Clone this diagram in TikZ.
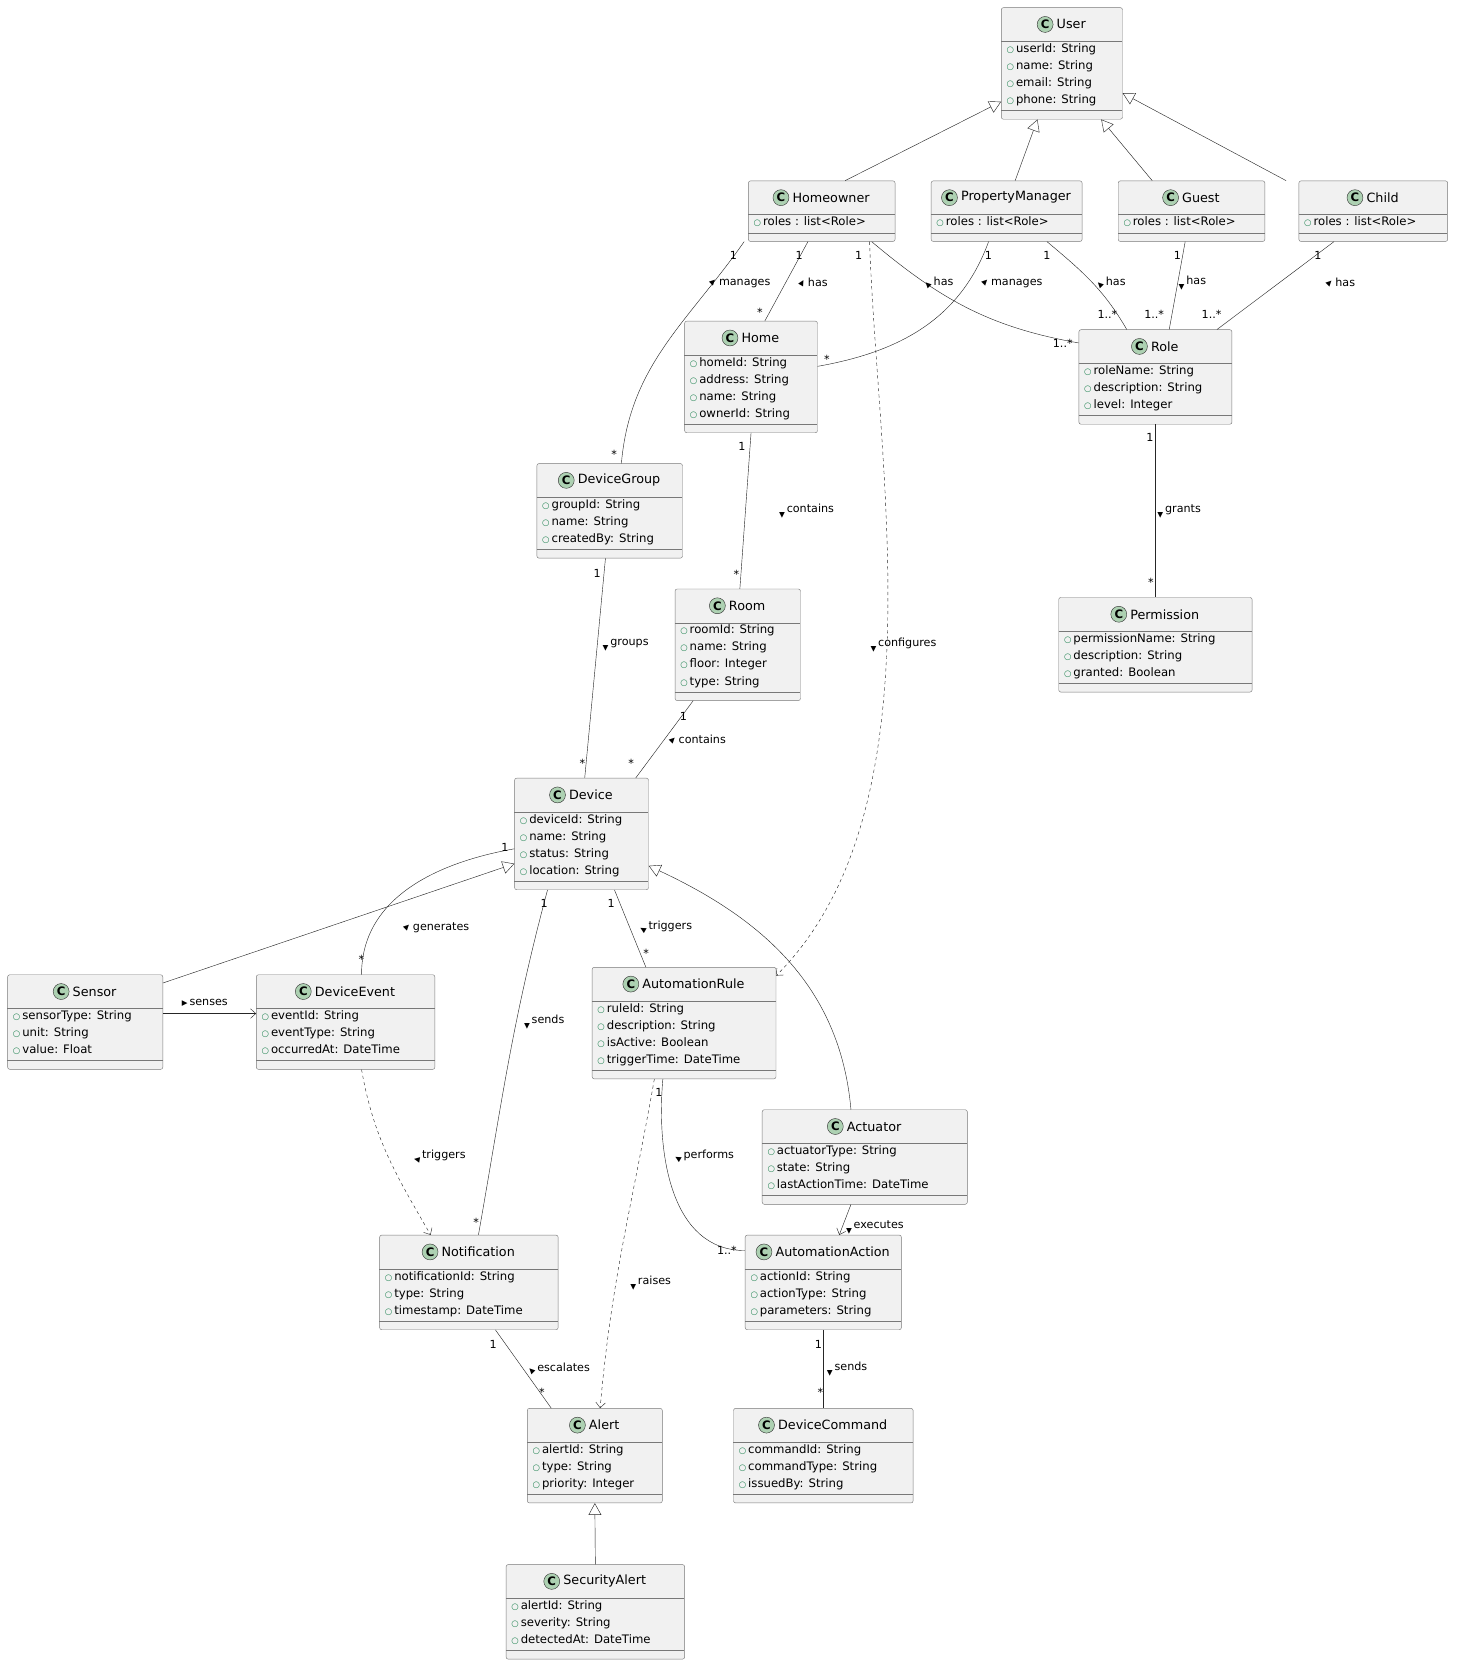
\documentclass[tikz,border=0pt]{standalone}
\usepackage{fontspec}
\usepackage{graphicx}
\setmainfont{DejaVu Sans}
\usetikzlibrary{positioning,arrows.meta,calc}
\definecolor{boxfill}{RGB}{241,241,241}
\definecolor{boxedge}{RGB}{120,120,120}
\definecolor{iconfill}{RGB}{173,209,178}
\definecolor{attrgreen}{RGB}{30,130,80}

\tikzset{
  classbox/.style={draw=boxedge, fill=boxfill, rounded corners=2pt, inner sep=0},
  boxline/.style={draw=boxedge},
  titletext/.style={font=\fontsize{12}{14}\selectfont, inner sep=0},
  icon/.style={circle, draw=black!80, fill=iconfill, inner sep=0, minimum size=15pt, font=\bfseries\fontsize{11}{11}\selectfont},
  attrtext/.style={anchor=north west, align=left, inner sep=0, font=\fontsize{11}{16}\selectfont},
  multtext/.style={font=\fontsize{10.5}{12}\selectfont, inner sep=1pt},
  labtext/.style={anchor=west, font=\fontsize{10.5}{12}\selectfont, inner sep=1pt},
  assoc/.style={draw=black!85},
  dep/.style={draw=black!85, dashed, -{Straight Barb[length=5pt,width=9pt]}},
  navi/.style={draw=black!85, -{Straight Barb[length=5pt,width=9pt]}},
  inh/.style={draw=black!85, -{Triangle[open,length=11pt,width=12pt]}}
}

\newcommand{\attr}[1]{{\color{attrgreen}\fontsize{8}{8}\selectfont ○}\,#1}
% class box: id, x, y, width, number of attributes, title, attributes
\newcommand{\umlclass}[7]{%
  \pgfmathsetmacro\hh{41+16*#5}
  \pgfmathsetmacro\cx{#2+#4/2+9}
  \pgfmathsetmacro\ya{#3+32}
  \pgfmathsetmacro\yb{#3+33+16*#5}
  \node[classbox, minimum width=#4pt, minimum height=\hh pt, anchor=north west] (#1) at (#2,#3) {};
  \draw[boxline] (#2,\ya) -- ++(#4,0);
  \draw[boxline] (#2,\yb) -- ++(#4,0);
  \node[titletext] (#1-t) at (\cx,#3+16) {#6};
  \node[icon, left=3pt of #1-t] (#1-c) {C};
  \node[attrtext] (#1-a) at (#2+5,\ya+2) {#7};
}
\newcommand{\lab}[4]{\node[labtext] at (#1,#2) {\rotatebox{#3}{\fontsize{7}{7}\selectfont ▶}\,#4};}
\newcommand{\mult}[3]{\node[multtext] at (#1,#2) {#3};}

\begin{document}
\begin{tikzpicture}[x=1pt,y=-1pt]
\useasboundingbox[fill=white] (0,0) rectangle (1377,1578);

% classes
\umlclass{user}{942}{7}{114}{4}{User}{\attr{userId: String}\\\attr{name: String}\\\attr{email: String}\\\attr{phone: String}}
\umlclass{hom}{704}{170}{138}{1}{Homeowner}{\attr{roles : list<Role>}}
\umlclass{pm}{876}{170}{142}{1}{PropertyManager}{\attr{roles : list<Role>}}
\umlclass{guest}{1052}{170}{138}{1}{Guest}{\attr{roles : list<Role>}}
\umlclass{child}{1222}{170}{140}{1}{Child}{\attr{roles : list<Role>}}
\umlclass{home}{644}{302}{125}{4}{Home}{\attr{homeId: String}\\\attr{address: String}\\\attr{name: String}\\\attr{ownerId: String}}
\umlclass{role}{1015}{310}{144}{3}{Role}{\attr{roleName: String}\\\attr{description: String}\\\attr{level: Integer}}
\umlclass{dg}{505}{436}{137}{3}{DeviceGroup}{\attr{groupId: String}\\\attr{name: String}\\\attr{createdBy: String}}
\umlclass{room}{635}{554}{118}{4}{Room}{\attr{roomId: String}\\\attr{name: String}\\\attr{floor: Integer}\\\attr{type: String}}
\umlclass{perm}{996}{562}{182}{3}{Permission}{\attr{permissionName: String}\\\attr{description: String}\\\attr{granted: Boolean}}
\umlclass{dev}{484}{732}{126}{4}{Device}{\attr{deviceId: String}\\\attr{name: String}\\\attr{status: String}\\\attr{location: String}}
\umlclass{sensor}{7}{917}{146}{3}{Sensor}{\attr{sensorType: String}\\\attr{unit: String}\\\attr{value: Float}}
\umlclass{de}{241}{917}{168}{3}{DeviceEvent}{\attr{eventId: String}\\\attr{eventType: String}\\\attr{occurredAt: DateTime}}
\umlclass{ar}{557}{910}{173}{4}{AutomationRule}{\attr{ruleId: String}\\\attr{description: String}\\\attr{isActive: Boolean}\\\attr{triggerTime: DateTime}}
\umlclass{act}{717}{1044}{193}{3}{Actuator}{\attr{actuatorType: String}\\\attr{state: String}\\\attr{lastActionTime: DateTime}}
\umlclass{notif}{357}{1162}{168}{3}{Notification}{\attr{notificationId: String}\\\attr{type: String}\\\attr{timestamp: DateTime}}
\umlclass{aa}{701}{1162}{147}{3}{AutomationAction}{\attr{actionId: String}\\\attr{actionType: String}\\\attr{parameters: String}}
\umlclass{alert}{496}{1325}{127}{3}{Alert}{\attr{alertId: String}\\\attr{type: String}\\\attr{priority: Integer}}
\umlclass{dc}{690}{1325}{169}{3}{DeviceCommand}{\attr{commandId: String}\\\attr{commandType: String}\\\attr{issuedBy: String}}
\umlclass{sec}{476}{1472}{168}{3}{SecurityAlert}{\attr{alertId: String}\\\attr{severity: String}\\\attr{detectedAt: DateTime}}

% inheritance
\draw[inh] ([xshift=22pt]hom.north) -- ([yshift=-36pt]user.west);
\draw[inh] ([xshift=8pt]pm.north) -- ([xshift=-23pt]user.south);
\draw[inh] ([xshift=-37pt]guest.north) -- ([xshift=37pt]user.south);
\draw[inh] ([xshift=-82pt]child.north) -- ([yshift=-28pt]user.east);
\draw[inh] ([xshift=73pt,yshift=-8pt]sensor.north) -- ([yshift=-28pt]dev.west);
\draw[inh] ([xshift=-13pt]act.north) to[out=95,in=-25] ([yshift=-30pt]dev.east);
\draw[inh] (sec.north) -- (alert.south);

% associations
\draw[assoc] ([xshift=-73pt]hom.south) to[out=-125,in=85] ([xshift=11pt]dg.north);
\mult{690}{240}{1} \mult{578}{428}{*} \lab{666}{266}{45}{manages}
\draw[assoc] ([xshift=-13pt]hom.south) -- ([xshift=13pt]home.north);
\mult{752}{240}{1} \mult{715}{294}{*} \lab{750}{266}{60}{has}
\draw[assoc] ([xshift=47pt]hom.south) to[out=-40,in=170] ([yshift=32pt]role.west);
\mult{1000}{323}{1..*} \lab{868}{266}{135}{has}
\draw[dep] ([xshift=45pt]hom.south) to[out=-88,in=45,looseness=0.8] ([yshift=-8pt]ar.north east);
\mult{808}{240}{1} \lab{818}{607}{-90}{configures}
\draw[assoc] ([xshift=-17pt]pm.south) to[out=-110,in=10] ([yshift=10pt]home.east);
\mult{930}{240}{1} \mult{778}{338}{*} \lab{922}{266}{45}{manages}
\draw[assoc] ([xshift=38pt]pm.south) to[out=-40,in=120] ([xshift=-27pt]role.north);
\mult{985}{240}{1} \mult{1042}{296}{1..*} \lab{1030}{266}{135}{has}
\draw[assoc] ([xshift=-6pt]guest.south) -- ([xshift=13pt]role.north);
\mult{1108}{240}{1} \mult{1086}{296}{1..*} \lab{1108}{266}{-90}{has}
\draw[assoc] ([xshift=-37pt]child.south) -- ([xshift=58pt]role.north);
\mult{1240}{240}{1} \mult{1140}{296}{1..*} \lab{1246}{266}{45}{has}
\draw[assoc] (home.south) -- ([xshift=2pt]room.north);
\mult{698}{420}{1} \mult{693}{540}{*} \lab{732}{481}{-90}{contains}
\draw[assoc] (role.south) -- (perm.north);
\mult{1082}{412}{1} \mult{1083}{548}{*} \lab{1088}{481}{-90}{grants}
\draw[assoc] ([xshift=-4pt]dg.south) -- ([xshift=3pt]dev.north);
\mult{562}{540}{1} \mult{548}{718}{*} \lab{566}{607}{-90}{groups}
\draw[assoc] ([xshift=-42pt]room.south) -- ([xshift=51pt]dev.north);
\mult{643}{674}{1} \mult{594}{718}{*} \lab{628}{696}{45}{contains}
\draw[assoc] ([yshift=-14pt]dev.west) to[out=190,in=90] ([xshift=15pt]de.north);
\mult{475}{797}{1} \mult{340}{903}{*} \lab{378}{873}{45}{generates}
\draw[assoc] ([xshift=-32pt]dev.south) to[out=-105,in=80] ([xshift=9pt]notif.north);
\mult{512}{850}{1} \mult{448}{1150}{*} \lab{492}{962}{-90}{sends}
\draw[assoc] ([xshift=31pt]dev.south) -- ([xshift=-36pt]ar.north);
\mult{575}{850}{1} \mult{608}{897}{*} \lab{600}{873}{150}{triggers}
\draw[navi] ([yshift=8pt]sensor.east) -- ([yshift=8pt]de.west);
\lab{170}{944}{0}{senses}
\draw[dep] ([xshift=15pt]de.south) to[out=-80,in=120] ([xshift=-36pt]notif.north);
\lab{388}{1088}{170}{triggers}
\draw[dep] ([xshift=-28pt]ar.south) to[out=-100,in=85] ([xshift=5pt]alert.north);
\lab{592}{1207}{-90}{raises}
\draw[assoc] ([xshift=-20pt]ar.south) to[out=-95,in=180] ([yshift=30pt]aa.west);
\mult{620}{1028}{1} \mult{684}{1177}{1..*} \lab{633}{1088}{150}{performs}
\draw[navi] ([xshift=-13pt]act.south) -- ([xshift=15pt]aa.north);
\lab{795}{1155}{-90}{executes}
\draw[assoc] ([xshift=25pt]notif.south) -- ([xshift=-41pt]alert.north);
\mult{464}{1265}{1} \mult{510}{1310}{*} \lab{495}{1288}{135}{escalates}
\draw[assoc] (aa.south) -- (dc.north);
\mult{770}{1265}{1} \mult{772}{1310}{*} \lab{777}{1288}{-90}{sends}
\end{tikzpicture}
\end{document}
